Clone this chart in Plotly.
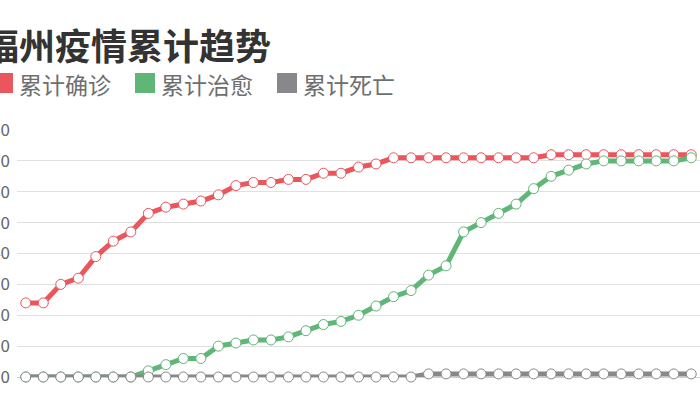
import plotly.graph_objects as go
import pandas as pd

# ---- data ----
dates = [d.strftime("%m-%d") for d in pd.date_range("2020-01-26", periods=39, freq="D")]
confirmed = [24, 24, 30, 32, 39, 44, 47, 53, 55, 56, 57, 59, 62,
             63, 63, 64, 64, 66, 66, 68, 69, 71, 71, 71, 71, 71,
             71, 71, 71, 71, 72, 72, 72, 72, 72, 72, 72, 72, 72]
cured = [0, 0, 0, 0, 0, 0, 0, 2, 4, 6, 6, 10, 11,
         12, 12, 13, 15, 17, 18, 20, 23, 26, 28, 33, 36, 47,
         50, 53, 56, 61, 65, 67, 69, 70, 70, 70, 70, 70, 71]
dead = [0] * 23 + [1] * 16
series_names = ["累计确诊", "累计治愈", "累计死亡"]
series_colors = ["#e9575c", "#5fb677", "#88888c"]
title_text = "福州疫情累计趋势"
y_ticks = [0, 10, 20, 30, 40, 50, 60, 70, 80]

FONT = "Noto Sans CJK SC"
W, H = 700, 400
ML, MR, MT, MB = 17, 0, 130, 23
PW, PH = W - ML - MR, H - MT - MB


def px_x(px):
    return (px - ML) / PW


def px_y(py):
    return (H - MB - py) / PH


fig = go.Figure()
for name, vals, col in zip(series_names, [confirmed, cured, dead], series_colors):
    fig.add_trace(go.Scatter(
        x=dates, y=vals, name=name, mode="lines+markers",
        line=dict(color=col, width=5),
        marker=dict(symbol="circle", size=10, color="white",
                    line=dict(color=col, width=1)),
        cliponaxis=False, showlegend=False,
    ))

# title (partly cut at the left edge, as in the reference)
annotations = [dict(
    text="<b>" + title_text + "</b>", xref="paper", yref="paper",
    x=px_x(-19), y=px_y(44), xanchor="left", yanchor="middle",
    showarrow=False, font=dict(family=FONT, size=36, color="#333333"),
)]
shapes = []
leg_sq_x = [-7, 135, 277]
for i, (name, col) in enumerate(zip(series_names, series_colors)):
    x0 = leg_sq_x[i]
    shapes.append(dict(type="rect", xref="paper", yref="paper",
                       x0=px_x(x0), x1=px_x(x0 + 20), y0=px_y(93), y1=px_y(73),
                       fillcolor=col, line=dict(width=0)))
    annotations.append(dict(
        text=name, xref="paper", yref="paper", x=px_x(x0 + 24), y=px_y(84),
        xanchor="left", yanchor="middle", showarrow=False,
        font=dict(family=FONT, size=23, color="#6e6e6e"),
    ))

fig.update_layout(
    width=W, height=H,
    margin=dict(l=ML, r=MR, t=MT, b=MB, pad=0),
    paper_bgcolor="white", plot_bgcolor="white",
    showlegend=False,
    font=dict(family=FONT),
    annotations=annotations, shapes=shapes,
    xaxis=dict(type="category", range=[-0.5, len(dates) - 0.5],
               showticklabels=False, showgrid=False, zeroline=False,
               showline=False, ticks="", automargin=False),
    yaxis=dict(range=[0, 80], tickvals=y_ticks, showgrid=True,
               gridcolor="#e0e0e0", gridwidth=1, zeroline=True,
               zerolinecolor="#cfcfcf", zerolinewidth=1, showline=False,
               ticks="", ticklabelstandoff=6, automargin=False,
               tickfont=dict(family=FONT, size=17, color="#666666")),
)

fig.write_html("out.html", config={"displayModeBar": False},
               post_script="document.body.style.margin='0px';")
